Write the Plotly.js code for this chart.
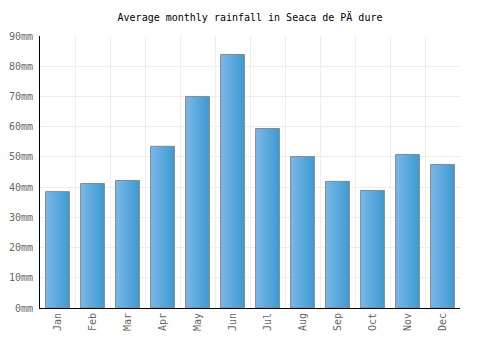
<!DOCTYPE html>
<html><head><meta charset="utf-8">
<script src="https://cdn.plot.ly/plotly-3.0.1.min.js"></script>
<style>body{margin:0;background:#fff}</style>
</head><body>
<div id="chart" style="width:500px;height:350px"></div>
<script>
const months = ["Jan","Feb","Mar","Apr","May","Jun","Jul","Aug","Sep","Oct","Nov","Dec"];
const rainfall = [38.5, 41.2, 42.2, 53.5, 70.0, 83.9, 59.4, 50.1, 41.9, 38.9, 50.8, 47.5];
const tickVals = [0,10,20,30,40,50,60,70,80,90];
const tickLabels = tickVals.map(function(v){ return v + "mm"; });

const font = "DejaVu Sans Mono, monospace";
const data = [{
  type: "bar",
  x: months,
  y: rainfall,
  width: 0.68,
  marker: {color: "#5aaae0", line: {color: "#888888", width: 1}},
  hoverinfo: "none"
}];
const layout = {
  width: 500, height: 350,
  margin: {l: 40, r: 40, t: 36, b: 42},
  paper_bgcolor: "#ffffff", plot_bgcolor: "#ffffff",
  showlegend: false,
  title: {text: "Average monthly rainfall in Seaca de PÄ dure", x: 0.5, xanchor: "center", y: 0.95, yanchor: "middle",
          font: {family: font, size: 10, color: "#000"}},
  xaxis: {
    tickangle: -90, tickson: "boundaries", showgrid: true, gridcolor: "#eeeeee", gridwidth: 1,
    showline: true, linecolor: "#000", linewidth: 1, ticks: "outside", ticklen: 6, tickcolor: "rgba(0,0,0,0)",
    tickfont: {family: font, size: 10, color: "#666666"}, fixedrange: true
  },
  yaxis: {
    range: [0, 90], tickmode: "array", tickvals: tickVals, ticktext: tickLabels,
    showgrid: true, gridcolor: "#eeeeee", gridwidth: 1,
    showline: true, linecolor: "#000", linewidth: 1, ticks: "outside", ticklen: 4, tickcolor: "rgba(0,0,0,0)", zeroline: false,
    tickfont: {family: font, size: 10, color: "#666666"}, fixedrange: true
  }
};
Plotly.newPlot("chart", data, layout, {displayModeBar: false, staticPlot: true}).then(function(gd){
  const svg = gd.querySelector("svg.main-svg");
  const ns = "http://www.w3.org/2000/svg";
  let defs = svg.querySelector("defs");
  if (!defs) { defs = document.createElementNS(ns, "defs"); svg.insertBefore(defs, svg.firstChild); }
  const g = document.createElementNS(ns, "linearGradient");
  g.setAttribute("id", "barGrad");
  g.setAttribute("x1", "0"); g.setAttribute("y1", "0"); g.setAttribute("x2", "1"); g.setAttribute("y2", "0");
  [["0", "#7ab8e8"], ["1", "#3d9ad2"]].forEach(function(s){
    const st = document.createElementNS(ns, "stop");
    st.setAttribute("offset", s[0]); st.setAttribute("stop-color", s[1]);
    g.appendChild(st);
  });
  defs.appendChild(g);
  gd.querySelectorAll(".barlayer .point path").forEach(function(p){
    p.style.fill = "url(#barGrad)";
  });
});
</script>
</body></html>
